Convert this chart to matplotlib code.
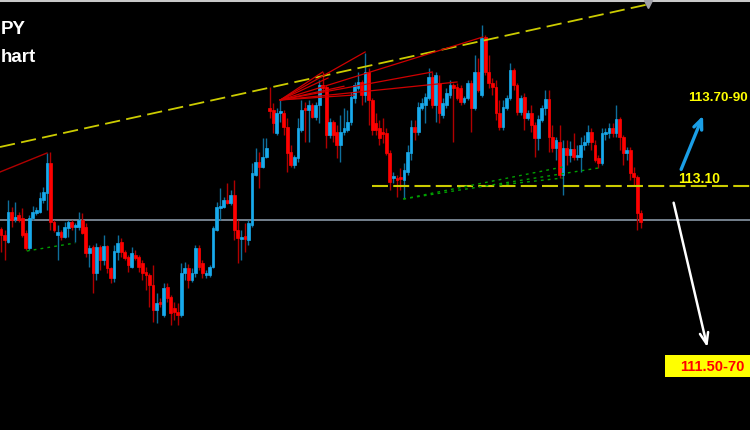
import matplotlib
matplotlib.use("Agg")
import matplotlib.pyplot as plt
from matplotlib.patches import Rectangle
import numpy as np

plt.rcParams['lines.scale_dashes'] = False

# ---------------- data: USDJPY candles (price) ----------------
opens = [112.758,112.71,112.654,112.894,112.838,112.87,112.846,112.726,112.606,112.846,
         112.886,112.894,112.99,113.046,113.286,112.814,112.71,112.734,112.694,112.766,
         112.814,112.774,112.774,112.83,112.774,112.566,112.614,112.406,112.614,112.51,
         112.622,112.446,112.366,112.574,112.654,112.574,112.534,112.454,112.55,112.534,
         112.486,112.414,112.39,112.31,112.11,112.166,112.07,112.294,112.214,112.126,
         112.094,112.07,112.406,112.446,112.35,112.406,112.606,112.486,112.39,112.39,
         112.454,112.75,112.926,112.934,112.99,112.966,113.03,112.75,112.678,112.702,
         112.67,112.79,113.19,113.294,113.254,113.334,113.726,113.71,113.526,113.686,
         113.686,113.574,113.374,113.27,113.326,113.55,113.726,113.71,113.75,113.654,
         113.75,113.91,113.894,113.51,113.614,113.534,113.43,113.534,113.55,113.614,
         113.806,113.886,113.934,113.83,114.014,113.79,113.606,113.566,113.534,113.526,
         113.366,113.166,113.166,113.166,113.15,113.214,113.366,113.574,113.534,113.726,
         113.75,113.806,113.974,113.75,113.926,113.67,113.75,113.83,113.91,113.894,
         113.886,113.774,113.806,113.926,113.726,114.014,113.83,114.294,114.014,113.926,
         113.894,113.686,113.574,113.726,113.806,114.03,113.91,113.694,113.814,113.646,
         113.686,113.59,113.486,113.63,113.726,113.798,113.494,113.406,113.454,113.19,
         113.406,113.35,113.398,113.334,113.334,113.43,113.454,113.534,113.43,113.326,
         113.286,113.518,113.526,113.566,113.526,113.638,113.494,113.366,113.39,113.206,
         113.174,112.886]
highs = [112.774,112.75,112.99,112.934,112.974,112.894,112.926,112.75,112.87,112.942,
         112.934,113.054,113.094,113.366,113.374,112.83,112.79,112.75,112.814,112.83,
         112.83,112.806,112.894,112.886,112.806,112.63,112.63,112.646,112.63,112.71,
         112.63,112.454,112.63,112.71,112.686,112.59,112.55,112.614,112.59,112.55,
         112.51,112.454,112.406,112.47,112.246,112.206,112.326,112.326,112.23,112.174,
         112.166,112.486,112.494,112.478,112.446,112.63,112.63,112.51,112.43,112.47,
         112.782,112.974,113.086,113.014,113.126,113.07,113.15,112.83,112.75,112.806,
         112.83,113.286,113.406,113.374,113.486,113.486,113.894,113.766,113.726,113.79,
         113.71,113.646,113.43,113.35,113.646,113.79,113.774,113.79,113.766,113.774,
         113.95,114.014,113.91,113.646,113.63,113.59,113.67,113.726,113.71,113.854,
         113.934,114.014,113.95,114.166,114.046,113.806,113.686,113.63,113.646,113.566,
         113.39,113.214,113.19,113.246,113.286,113.43,113.63,113.63,113.774,113.806,
         113.846,114.046,114.014,114.014,113.99,113.806,113.886,113.95,113.926,113.926,
         113.91,113.822,113.95,113.95,114.15,114.126,114.39,114.31,114.15,113.966,
         113.95,113.79,113.79,113.83,114.086,114.046,113.926,113.83,113.846,113.71,
         113.75,113.614,113.67,113.75,113.87,113.87,113.59,113.494,113.59,113.47,
         113.47,113.462,113.526,113.43,113.494,113.51,113.59,113.566,113.47,113.35,
         113.566,113.566,113.606,113.606,113.75,113.654,113.51,113.414,113.414,113.254,
         113.19,112.91]
lows = [112.574,112.51,112.646,112.774,112.814,112.814,112.694,112.59,112.59,112.83,
        112.87,112.886,112.966,112.91,112.75,112.734,112.51,112.67,112.686,112.694,
        112.75,112.654,112.75,112.718,112.534,112.454,112.246,112.35,112.43,112.47,
        112.406,112.326,112.334,112.51,112.534,112.51,112.414,112.446,112.51,112.414,
        112.35,112.27,112.134,112.014,112.006,112.134,112.054,112.174,111.99,112.03,
        111.99,112.054,112.35,112.286,112.334,112.374,112.43,112.366,112.366,112.374,
        112.446,112.742,112.83,112.926,112.958,112.95,112.67,112.486,112.51,112.574,
        112.63,112.774,113.182,113.086,113.246,113.326,113.646,113.526,113.51,113.614,
        113.51,113.214,113.254,113.246,113.294,113.534,113.454,113.454,113.646,113.63,
        113.606,113.854,113.406,113.486,113.454,113.326,113.294,113.51,113.534,113.59,
        113.766,113.87,113.75,113.774,113.59,113.51,113.51,113.43,113.446,113.35,
        113.07,113.126,113.014,113.07,113.006,113.19,113.31,113.47,113.51,113.71,
        113.606,113.79,113.726,113.614,113.606,113.646,113.726,113.806,113.454,113.79,
        113.75,113.758,113.79,113.534,113.71,113.854,113.814,113.99,113.886,113.83,
        113.63,113.55,113.55,113.71,113.79,113.87,113.67,113.67,113.55,113.63,
        113.534,113.334,113.39,113.614,113.67,113.374,113.374,113.31,113.166,113.03,
        113.27,113.294,113.31,113.31,113.214,113.39,113.43,113.39,113.294,113.246,
        113.27,113.47,113.486,113.494,113.494,113.39,113.27,113.31,113.15,113.11,
        112.75,112.766]
closes = [112.71,112.67,112.894,112.83,112.854,112.83,112.71,112.606,112.846,112.894,
          112.91,113.006,113.054,113.286,112.814,112.75,112.734,112.694,112.774,112.814,
          112.774,112.79,112.83,112.726,112.566,112.606,112.406,112.614,112.51,112.622,
          112.446,112.366,112.582,112.646,112.574,112.526,112.47,112.566,112.526,112.454,
          112.406,112.39,112.31,112.11,112.166,112.158,112.286,112.206,112.086,112.094,
          112.07,112.406,112.446,112.35,112.406,112.606,112.454,112.406,112.406,112.454,
          112.766,112.934,112.934,112.99,112.966,113.03,112.75,112.686,112.694,112.678,
          112.806,113.206,113.294,113.254,113.334,113.406,113.702,113.606,113.686,113.694,
          113.574,113.366,113.27,113.334,113.566,113.71,113.71,113.75,113.654,113.75,
          113.91,113.886,113.51,113.614,113.51,113.43,113.534,113.566,113.614,113.814,
          113.91,113.934,113.83,114.014,113.79,113.55,113.55,113.486,113.518,113.366,
          113.134,113.174,113.15,113.158,113.23,113.374,113.574,113.534,113.734,113.766,
          113.814,113.974,113.75,113.99,113.686,113.766,113.846,113.91,113.886,113.806,
          113.774,113.806,113.926,113.726,114.014,113.87,114.286,114.014,113.926,113.894,
          113.686,113.574,113.734,113.806,114.03,113.91,113.694,113.806,113.646,113.686,
          113.59,113.486,113.638,113.726,113.798,113.494,113.406,113.47,113.19,113.406,
          113.35,113.398,113.334,113.35,113.43,113.454,113.534,113.454,113.31,113.286,
          113.526,113.526,113.566,113.526,113.638,113.494,113.366,113.39,113.206,113.174,
          112.886,112.814]

# key levels / labels
current_price = 112.83
support_level = 113.10
support_start_idx = 104.9
title_part1 = "PY"
title_part2 = "hart"
upper_target_label = "113.70-90"
support_label = "113.10"
lower_target_label = "111.50-70"

# trend / pattern lines as (candle index, price)
yellow_trend_x = [-0.28, 183.0]
yellow_trend_y = [113.414, 114.555]
red_left_x = [-0.28, 13.0]
red_left_y = [113.214, 113.366]
fan_origin = (79.0, 113.79)
fan_end_x = [103.0, 91.0, 92.5, 97.0, 136.3, 122.0, 129.0, 100.0]
fan_end_y = [114.174, 114.014, 113.966, 113.90, 114.294, 114.014, 113.934, 113.83]
green_left_x = [7.3, 21.0]
green_left_y = [112.582, 112.646]
green_mid_x = [[113.8, 158.9], [113.8, 169.0], [141.0, 158.9]]
green_mid_y = [[112.998, 113.254], [112.998, 113.246], [113.11, 113.166]]
blue_arrow = [(192.1, 113.214), (198.9, 113.686)]
white_arrow = [(190.1, 112.99), (200.0, 111.79)]

# ---------------- drawing ----------------
W, H = 750, 430
fig = plt.figure(figsize=(7.5, 4.3), dpi=100, facecolor='black')
ax = fig.add_axes([0, 0, 1, 1])
ax.set_facecolor('black')
ax.set_xlim(-0.283, 211.88)
ax.set_ylim(111.15, 114.59)
for s in ['left', 'right', 'bottom']:
    ax.spines[s].set_visible(False)
ax.spines['top'].set_color('#c8c8c8')
ax.spines['top'].set_linewidth(2.2)
ax.set_xticks([]); ax.set_yticks([])

o = np.array(opens); h = np.array(highs); l = np.array(lows); c = np.array(closes)
idx = np.arange(len(o))
up = c >= o
body_col = np.where(up, '#18aaec', '#ff0000')
wick_col = np.where(up, '#0f6f9c', '#b00000')

# current price line
ax.axhline(current_price, color='#7d8a98', lw=1.3, zorder=1)

ax.vlines(idx, l, h, colors=wick_col, lw=1.0, zorder=3)
bottoms = np.minimum(o, c)
heights = np.maximum(np.abs(c - o), 0.012)
ax.bar(idx, heights, bottom=bottoms, width=0.78, color=body_col,
       edgecolor=body_col, lw=0.5, zorder=4)

# yellow sloping dashed trend line
ax.plot(yellow_trend_x, yellow_trend_y, color='#cccc00', lw=1.3,
        dashes=(11, 4.5), zorder=5)
ax.plot([yellow_trend_x[1]], [yellow_trend_y[1]], marker='v', color='#a0a0a8',
        ms=6, zorder=6)

# horizontal support dashed
ax.plot([support_start_idx, 212], [support_level, support_level], color='#cccc00',
        lw=1.5, dashes=(11.5, 3.8), zorder=5)

# red lines
ax.plot(red_left_x, red_left_y, color='#b00000', lw=1.0, zorder=5)
for ex, ey in zip(fan_end_x, fan_end_y):
    ax.plot([fan_origin[0], ex], [fan_origin[1], ey], color='#d00000', lw=0.9, zorder=5)

# green dotted
ax.plot(green_left_x, green_left_y, color='#00a000', lw=1.0, dashes=(2, 3), zorder=5)
for gx, gy in zip(green_mid_x, green_mid_y):
    ax.plot(gx, gy, color='#00a000', lw=1.0, dashes=(2, 3), zorder=5)

# arrows
ax.annotate('', xy=blue_arrow[1], xytext=blue_arrow[0],
            arrowprops=dict(arrowstyle='->,head_length=0.7,head_width=0.3',
                            color='#1a9ee6', lw=2.4), zorder=7)
ax.annotate('', xy=white_arrow[1], xytext=white_arrow[0],
            arrowprops=dict(arrowstyle='->,head_length=0.8,head_width=0.3',
                            color='white', lw=1.8), zorder=7)

# texts
fam = ['Liberation Sans', 'DejaVu Sans']
ax.text(1 / W, 1 - 30 / H, title_part1, transform=ax.transAxes, ha='left', va='center',
        color='white', fontsize=13.5, fontweight='bold', family=fam)
ax.text(1 / W, 1 - 57 / H, title_part2, transform=ax.transAxes, ha='left', va='center',
        color='white', fontsize=13.5, fontweight='bold', family=fam)
ax.text(748 / W, 1 - 98 / H, upper_target_label, transform=ax.transAxes, ha='right',
        va='center', color='#ffff00', fontsize=9.6, fontweight='bold', family=fam)
ax.text(678 / W, 1 - 179 / H, support_label, transform=ax.transAxes, ha='left',
        va='center', color='#ffff00', fontsize=10, fontweight='bold', family=fam)
ax.add_patch(Rectangle((665 / W, 1 - 377 / H), 85 / W, 22 / H, transform=ax.transAxes,
                       facecolor='#ffff00', edgecolor='none', zorder=8))
ax.text(712 / W, 1 - 367 / H, lower_target_label, transform=ax.transAxes, ha='center',
        va='center', color='#ff0000', fontsize=10.5, fontweight='bold', family=fam,
        zorder=9)

fig.savefig('out.png', dpi=100, facecolor='black')
